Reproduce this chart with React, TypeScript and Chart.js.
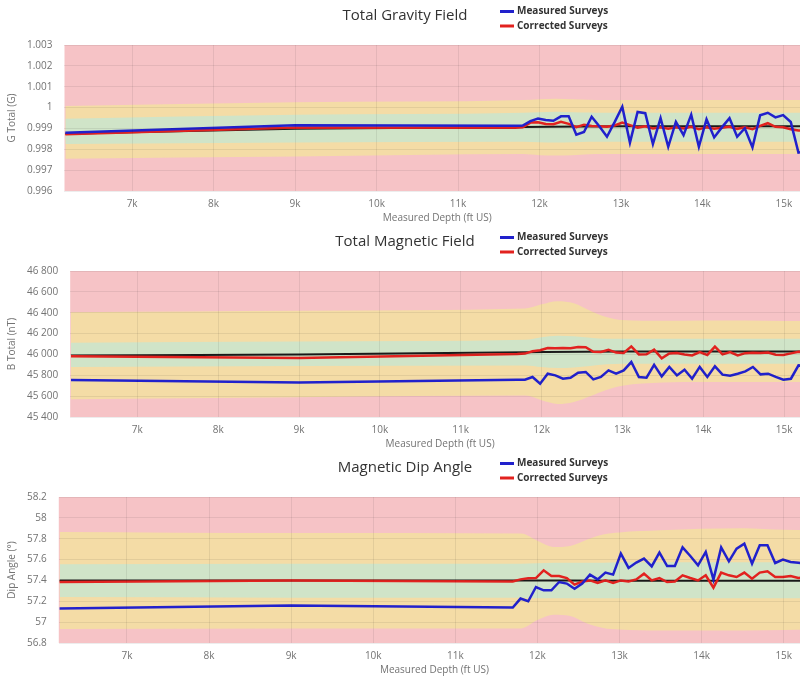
import React, { useEffect, useRef } from 'react';
import { Chart, registerables } from 'chart.js';

Chart.register(...registerables);

// ---------------- data ----------------
const surveyDepths = [
  6180, 9000, 11700, 11794, 11888, 11982, 12076, 12170, 12264, 12358, 12452, 12546,
  12640, 12734, 12828, 12922, 13016, 13110, 13204, 13298, 13392, 13486, 13580, 13674,
  13768, 13862, 13956, 14050, 14144, 14238, 14332, 14426, 14520, 14614, 14708, 14802,
  14896, 14990, 15084, 15178, 15272, 15366,
];

const depthTicks = [7000, 8000, 9000, 10000, 11000, 12000, 13000, 14000, 15000];

const gravityMeasured = [
  0.99879, 0.99915, 0.99913, 0.99914, 0.99935, 0.99947, 0.9994, 0.99937, 0.99958, 0.99958,
  0.9987, 0.99883, 0.99956, 0.9991, 0.9986, 0.9993, 1.00004, 0.99832, 0.99979, 0.99973,
  0.99825, 0.99949, 0.99812, 0.99932, 0.99868, 0.99966, 0.99812, 0.99944, 0.99857, 0.99905,
  0.99949, 0.9986, 0.99901, 0.99809, 0.99963, 0.99975, 0.99953, 0.99964, 0.99931, 0.99784,
  0.9979, 0.998,
];
const gravityCorrected = [
  0.99872, 0.99904, 0.99903, 0.99905, 0.99928, 0.9993, 0.99921, 0.9992, 0.99932, 0.99922,
  0.99906, 0.99918, 0.99912, 0.9991, 0.99908, 0.99914, 0.99928, 0.99916, 0.99904, 0.9991,
  0.999, 0.99906, 0.99898, 0.99905, 0.999, 0.99908, 0.99896, 0.99906, 0.99898, 0.99903,
  0.99908, 0.99898, 0.99905, 0.99896, 0.99912, 0.99925, 0.99908, 0.99906, 0.99896, 0.9989,
  0.9989, 0.99892,
];

const magneticMeasured = [
  45755, 45730, 45757, 45758, 45784, 45719, 45815, 45799, 45767, 45777, 45825, 45832,
  45761, 45784, 45847, 45815, 45847, 45927, 45784, 45777, 45901, 45790, 45880, 45799,
  45854, 45767, 45880, 45784, 45886, 45806, 45796, 45815, 45837, 45880, 45809, 45815,
  45784, 45758, 45767, 45895, 45890, 45880,
];
const magneticCorrected = [
  45982, 45966, 46004, 46008, 46030, 46040, 46062, 46060, 46062, 46060, 46072, 46070,
  46025, 46023, 46045, 46018, 46014, 46077, 46000, 46002, 46046, 45962, 46010, 46014,
  46000, 45990, 46022, 45995, 46075, 46000, 46023, 45990, 46012, 46016, 46014, 46018,
  45998, 45995, 46010, 46025, 46020, 46020,
];

const dipMeasured = [
  57.13, 57.16, 57.14, 57.226, 57.2, 57.337, 57.305, 57.305, 57.385, 57.37, 57.32, 57.37,
  57.456, 57.41, 57.475, 57.456, 57.657, 57.52, 57.571, 57.61, 57.535, 57.667, 57.538, 57.538,
  57.717, 57.634, 57.545, 57.673, 57.408, 57.717, 57.583, 57.705, 57.753, 57.561, 57.737, 57.737,
  57.567, 57.6, 57.577, 57.57, 57.56, 57.55,
];
const dipCorrected = [
  57.385, 57.4, 57.39, 57.41, 57.42, 57.423, 57.497, 57.443, 57.443, 57.423, 57.36, 57.39,
  57.4, 57.375, 57.4, 57.375, 57.4, 57.39, 57.41, 57.465, 57.4, 57.423, 57.385, 57.39,
  57.449, 57.423, 57.4, 57.449, 57.331, 57.475, 57.449, 57.433, 57.475, 57.417, 57.475, 57.487,
  57.433, 57.433, 57.443, 57.423, 57.43, 57.43,
];

const refDepths = [6180, 9000, 11800, 13000, 15366];
const gravityRef = [0.99874, 0.99898, 0.99907, 0.9991, 0.9991];
const magneticRef = [45990, 46000, 46022, 46028, 46028];
const dipRef = [57.4, 57.4, 57.4, 57.398, 57.398];

const bandDepths = [6180, 9000, 11800, 12000, 12200, 12400, 12600, 12800, 13000, 13500, 14000, 14500, 15000, 15366];

const gravityYellowUpper = [1.00008, 1.00025, 1.00036, 1.0004, 1.00042, 1.0004, 1.00037, 1.00036, 1.00036, 1.00036, 1.00036, 1.00036, 1.00036, 1.00036];
const gravityYellowLower = [0.99755, 0.99765, 0.99777, 0.99772, 0.9977, 0.99772, 0.99776, 0.99777, 0.99777, 0.99777, 0.99777, 0.99777, 0.99777, 0.99777];
const gravityGreenUpper = [0.99947, 0.99965, 0.99975, 0.99978, 0.9998, 0.99978, 0.99976, 0.99975, 0.99975, 0.99975, 0.99975, 0.99975, 0.99975, 0.99975];
const gravityGreenLower = [0.99825, 0.99832, 0.99836, 0.99834, 0.99832, 0.99834, 0.99836, 0.99836, 0.99836, 0.99836, 0.99836, 0.99836, 0.99836, 0.99836];

const magneticYellowUpper = [46405, 46420, 46440, 46480, 46510, 46490, 46420, 46360, 46330, 46322, 46325, 46325, 46320, 46320];
const magneticYellowLower = [45570, 45590, 45605, 45560, 45525, 45545, 45600, 45660, 45700, 45730, 45735, 45735, 45735, 45735];
const magneticGreenUpper = [46112, 46125, 46140, 46165, 46180, 46175, 46160, 46150, 46150, 46150, 46150, 46150, 46150, 46150];
const magneticGreenLower = [45880, 45890, 45895, 45880, 45870, 45875, 45890, 45905, 45910, 45910, 45910, 45910, 45910, 45910];

const dipYellowUpper = [57.865, 57.855, 57.85, 57.78, 57.72, 57.73, 57.79, 57.84, 57.86, 57.88, 57.895, 57.9, 57.885, 57.88];
const dipYellowLower = [56.935, 56.94, 56.94, 57.02, 57.07, 57.06, 56.99, 56.945, 56.93, 56.92, 56.92, 56.92, 56.925, 56.93];
const dipGreenUpper = [57.555, 57.56, 57.56, 57.565, 57.57, 57.57, 57.57, 57.57, 57.575, 57.575, 57.575, 57.575, 57.575, 57.575];
const dipGreenLower = [57.24, 57.235, 57.235, 57.23, 57.23, 57.23, 57.23, 57.23, 57.23, 57.23, 57.23, 57.23, 57.23, 57.23];

const seriesLabels = ['Measured Surveys', 'Corrected Surveys'];
const xTitle = 'Measured Depth (ft US)';

// ---------------- styling ----------------
const FONT = '"Open Sans", "DejaVu Sans", sans-serif';
const PINK = '#f6c3c6';
const YELLOW = '#f4dca6';
const GREEN = '#d0e4c8';
const BLUE = '#2121cc';
const RED = '#e2221f';
const BLACK = '#1a1a1a';
const TICK = '#737373';

const toXY = (xs: number[], ys: number[]) => xs.map((x, i) => ({ x, y: ys[i] }));

const bgPlugin = {
  id: 'bandBg',
  beforeDatasetsDraw(chart: any, _a: any, opts: any) {
    const { ctx, chartArea: a } = chart;
    ctx.save();
    ctx.fillStyle = opts.color;
    ctx.fillRect(a.left, a.top, a.right - a.left, a.bottom - a.top);
    ctx.restore();
  },
};

const legendPlugin = {
  id: 'sideLegend',
  afterDraw(chart: any, _a: any, opts: any) {
    const ctx = chart.ctx;
    const items = chart.data.datasets
      .filter((d: any) => d.legendIndex !== undefined)
      .sort((a: any, b: any) => a.legendIndex - b.legendIndex);
    ctx.save();
    items.forEach((d: any, i: number) => {
      const y = opts.y + i * opts.gap;
      ctx.strokeStyle = d.borderColor;
      ctx.lineWidth = 3;
      ctx.beginPath();
      ctx.moveTo(opts.x, y);
      ctx.lineTo(opts.x + 14, y);
      ctx.stroke();
      ctx.fillStyle = '#333';
      ctx.font = `bold 10px ${FONT}`;
      ctx.textBaseline = 'middle';
      ctx.textAlign = 'left';
      ctx.fillText(d.label, opts.x + 17, y);
    });
    ctx.restore();
  },
};

interface PanelProps {
  title: string;
  yTitle: string;
  yMin: number;
  yMax: number;
  yStep: number;
  fmt: (v: number) => string;
  measured: number[];
  corrected: number[];
  reference: number[];
  yU: number[];
  yL: number[];
  gU: number[];
  gL: number[];
}

function Panel(p: PanelProps) {
  const ref = useRef<HTMLCanvasElement>(null);
  useEffect(() => {
    if (!ref.current) return;
    const band = (data: number[], fill: any, color: string, order: number) => ({
      data: toXY(bandDepths, data),
      fill,
      backgroundColor: color,
      borderColor: 'transparent',
      borderWidth: 0,
      pointRadius: 0,
      cubicInterpolationMode: 'monotone',
      order,
    });
    const chart = new Chart(ref.current, {
      type: 'line',
      data: {
        datasets: [
          band(p.yU, '+1', YELLOW, 10),
          band(p.yL, false, YELLOW, 10),
          band(p.gU, '+1', GREEN, 9),
          band(p.gL, false, GREEN, 9),
          {
            data: toXY(refDepths, p.reference),
            borderColor: BLACK,
            borderWidth: 2,
            pointRadius: 0,
            fill: false,
            cubicInterpolationMode: 'monotone',
            order: 3,
          },
          {
            label: seriesLabels[1],
            legendIndex: 1,
            data: toXY(surveyDepths, p.corrected),
            borderColor: RED,
            borderWidth: 2.5,
            pointRadius: 0,
            fill: false,
            order: 2,
          },
          {
            label: seriesLabels[0],
            legendIndex: 0,
            data: toXY(surveyDepths, p.measured),
            borderColor: BLUE,
            borderWidth: 2.5,
            pointRadius: 0,
            fill: false,
            order: 1,
          },
        ] as any,
      },
      options: {
        responsive: false,
        animation: false,
        devicePixelRatio: 1,
        layout: { padding: { left: 0, right: 0, top: 0, bottom: 0 } },
        plugins: {
          legend: { display: false },
          tooltip: { enabled: false },
          title: {
            display: true,
            text: p.title,
            color: '#333',
            font: { family: FONT, size: 15, weight: 'normal' },
            padding: { top: 7, bottom: 20 },
          },
          bandBg: { color: PINK },
          sideLegend: { x: 500, y: 11.5, gap: 14.5 },
        } as any,
        scales: {
          x: {
            type: 'linear',
            min: 6170,
            max: 15320,
            border: { display: false },
            grid: { color: 'rgba(0,0,0,0.07)', drawTicks: false, z: 1 },
            afterBuildTicks: (scale: any) => {
              scale.ticks = depthTicks.map((v) => ({ value: v }));
            },
            afterFit: (scale: any) => {
              scale.height -= 7;
            },
            ticks: {
              autoSkip: false,
              maxRotation: 0,
              padding: 7,
              color: TICK,
              font: { family: FONT, size: 10 },
              callback: (v: any) => Number(v) / 1000 + 'k',
            },
            title: {
              display: true,
              text: xTitle,
              color: TICK,
              font: { family: FONT, size: 10 },
              padding: { top: 2, bottom: 2 },
            },
          },
          y: {
            type: 'linear',
            min: p.yMin,
            max: p.yMax,
            border: { display: false },
            grid: { color: 'rgba(0,0,0,0.07)', drawTicks: false, z: 1 },
            afterFit: (scale: any) => {
              scale.width -= 12;
            },
            ticks: {
              stepSize: p.yStep,
              padding: 12,
              color: TICK,
              font: { family: FONT, size: 10 },
              callback: (v: any) => p.fmt(Number(v)),
            },
            title: {
              display: true,
              text: p.yTitle,
              color: TICK,
              font: { family: FONT, size: 10 },
              padding: { top: 6, bottom: 9 },
            },
          },
        },
      } as any,
      plugins: [bgPlugin, legendPlugin],
    });
    return () => chart.destroy();
  }, []);
  return <canvas ref={ref} width={810} height={226} style={{ display: 'block', width: 810, height: 226 }} />;
}

const fmtGravity = (v: number) => String(parseFloat(v.toFixed(3)));
const fmtMagnetic = (v: number) => String(Math.round(v)).replace(/\B(?=(\d{3})+(?!\d))/g, ' ');
const fmtDip = (v: number) => String(parseFloat(v.toFixed(1)));

export default function App() {
  return (
    <div style={{ position: 'absolute', left: 0, top: 0, width: 800, height: 678, overflow: 'hidden', background: '#fff' }}>
      <Panel
        title="Total Gravity Field"
        yTitle="G Total (G)"
        yMin={0.996}
        yMax={1.003}
        yStep={0.001}
        fmt={fmtGravity}
        measured={gravityMeasured}
        corrected={gravityCorrected}
        reference={gravityRef}
        yU={gravityYellowUpper}
        yL={gravityYellowLower}
        gU={gravityGreenUpper}
        gL={gravityGreenLower}
      />
      <Panel
        title="Total Magnetic Field"
        yTitle="B Total (nT)"
        yMin={45400}
        yMax={46800}
        yStep={200}
        fmt={fmtMagnetic}
        measured={magneticMeasured}
        corrected={magneticCorrected}
        reference={magneticRef}
        yU={magneticYellowUpper}
        yL={magneticYellowLower}
        gU={magneticGreenUpper}
        gL={magneticGreenLower}
      />
      <Panel
        title="Magnetic Dip Angle"
        yTitle="Dip Angle (°)"
        yMin={56.8}
        yMax={58.2}
        yStep={0.2}
        fmt={fmtDip}
        measured={dipMeasured}
        corrected={dipCorrected}
        reference={dipRef}
        yU={dipYellowUpper}
        yL={dipYellowLower}
        gU={dipGreenUpper}
        gL={dipGreenLower}
      />
    </div>
  );
}
